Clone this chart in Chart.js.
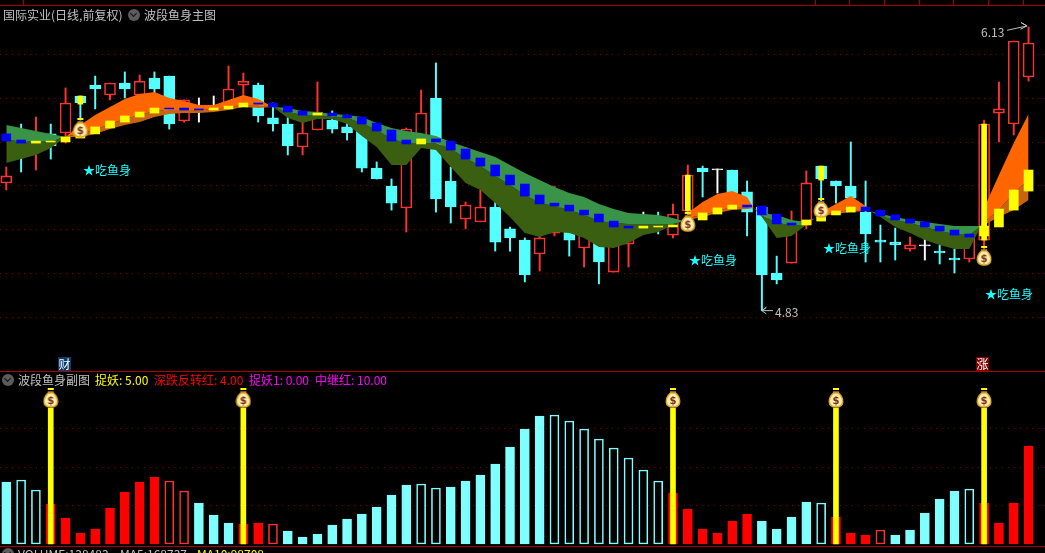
<!DOCTYPE html>
<html>
<head>
<meta charset="utf-8">
<title>波段鱼身</title>
<script src="https://cdn.jsdelivr.net/npm/chart.js@4/dist/chart.umd.min.js"></script>
<style>
html, body { margin: 0; padding: 0; background: #000; overflow: hidden; }
#wrap { position: relative; width: 1045px; height: 553px; overflow: hidden; }
#chart { position: absolute; left: 0; top: 0; }
.t { position: absolute; white-space: pre; font: 12px "Noto Sans CJK SC", "DejaVu Sans", sans-serif; line-height: 14px; color: #c0c0c0; }
.fish { color: #19ffff; font-size: 12px; }
.rule { position: absolute; left: 0; width: 1045px; height: 1px; background: #a80000; }
.sep { position: absolute; top: 0; width: 1px; height: 5px; background: #a80000; }
.ico { position: absolute; width: 12px; height: 12px; border-radius: 50%; background: #5c5c5c; }
.ico:after { content: ""; position: absolute; left: 3px; top: 2px; width: 4px; height: 4px; border: solid #111; border-width: 0 1.5px 1.5px 0; transform: rotate(45deg); }
.tag { position: absolute; width: 13px; height: 14px; color: #fff; font: 12px/14px "Noto Sans CJK SC"; text-align: center; }
</style>
</head>
<body>
<div id="wrap">
  <canvas id="chart" width="1045" height="553"></canvas>

  <div class="rule" style="top:5px"></div>
  <div class="sep" style="left:23px"></div>
  <div class="sep" style="left:815px"></div>
  <div class="sep" style="left:849px"></div>
  <div class="sep" style="left:884px"></div>
  <div class="sep" style="left:919px"></div>
  <div class="sep" style="left:953px"></div>
  <div class="sep" style="left:988px"></div>
  <div class="sep" style="left:1023px"></div>
  <div class="rule" style="top:371px"></div>
  <div class="rule" style="top:546px"></div>

  <div class="t" style="left:3px;top:8px">国际实业(日线,前复权)</div>
  <div class="ico" style="left:128px;top:9px"></div>
  <div class="t" style="left:144px;top:8px">波段鱼身主图</div>

  <div class="t fish" style="left:83px;top:163px">★吃鱼身</div>
  <div class="t fish" style="left:689px;top:253px">★吃鱼身</div>
  <div class="t fish" style="left:823px;top:241px">★吃鱼身</div>
  <div class="t fish" style="left:985px;top:287px">★吃鱼身</div>

  <div class="t" style="left:775px;top:305px">4.83</div>
  <div class="t" style="left:981px;top:25px">6.13</div>

  <div class="tag" style="left:58px;top:357px;background:#0a3a6a">财</div>
  <div class="tag" style="left:976px;top:357px;background:#800000">涨</div>

  <div class="ico" style="left:2px;top:374px"></div>
  <div class="t" style="left:18px;top:373px">波段鱼身副图</div>
  <div class="t" style="left:95px;top:373px;color:#ffff00">捉妖: 5.00</div>
  <div class="t" style="left:154px;top:373px;color:#ff0000">深跌反转红: 4.00</div>
  <div class="t" style="left:249px;top:373px;color:#ff00ff">捉妖1: 0.00</div>
  <div class="t" style="left:315px;top:373px;color:#ff00ff">中继红: 10.00</div>

  <div class="ico" style="left:2px;top:548px"></div>
  <div class="t" style="left:18px;top:547px">VOLUME:138483</div>
  <div class="t" style="left:120px;top:547px">MA5:168737</div>
  <div class="t" style="left:197px;top:547px;color:#ffff00">MA10:98708</div>
</div>

<script>
var openP = [5.413,5.609,5.563,5.637,5.641,5.810,5.860,5.815,5.869,5.815,5.892,5.901,5.696,5.751,5.751,5.760,5.860,5.860,5.710,5.682,5.577,5.655,5.700,5.669,5.664,5.481,5.399,5.299,5.618,5.801,5.422,5.248,5.235,5.303,5.203,5.152,5.089,5.184,5.267,5.116,5.221,5.006,5.134,5.221,5.235,5.175,5.285,5.481,5.477,5.472,5.372,5.303,5.002,5.047,5.221,5.490,5.422,5.399,5.280,5.152,5.143,5.111,5.130,5.102,5.070,5.066,5.152,5.732,5.682,5.897];
var closeP = [5.445,5.541,5.632,5.582,5.778,5.778,5.842,5.869,5.842,5.878,5.842,5.682,5.792,5.746,5.746,5.842,5.878,5.719,5.682,5.582,5.641,5.737,5.659,5.641,5.481,5.431,5.321,5.659,5.732,5.340,5.303,5.312,5.303,5.143,5.162,4.993,5.162,5.335,5.152,5.235,5.052,5.175,5.221,5.216,5.207,5.271,5.449,5.463,5.472,5.367,5.280,4.993,4.970,5.235,5.413,5.431,5.399,5.344,5.180,5.143,5.130,5.130,5.125,5.093,5.061,5.166,5.682,5.751,6.061,6.052];
var highP = [5.486,5.682,5.714,5.682,5.847,5.810,5.901,5.869,5.920,5.906,5.920,5.901,5.792,5.801,5.810,5.947,5.915,5.869,5.778,5.737,5.732,5.874,5.742,5.723,5.664,5.509,5.431,5.664,5.837,5.961,5.486,5.326,5.381,5.335,5.212,5.162,5.221,5.399,5.312,5.267,5.253,5.207,5.244,5.280,5.280,5.317,5.495,5.490,5.477,5.472,5.422,5.303,5.079,5.285,5.468,5.490,5.422,5.600,5.422,5.221,5.207,5.166,5.157,5.130,5.111,5.207,5.700,5.874,6.061,6.125];
var lowP = [5.381,5.463,5.472,5.522,5.595,5.700,5.751,5.792,5.801,5.815,5.792,5.659,5.691,5.691,5.746,5.760,5.792,5.691,5.650,5.541,5.541,5.655,5.641,5.609,5.463,5.431,5.289,5.189,5.618,5.280,5.230,5.203,5.235,5.102,5.102,4.961,5.011,5.171,5.079,5.029,4.952,5.006,5.029,5.189,5.180,5.162,5.267,5.349,5.367,5.367,5.171,4.830,4.952,5.047,5.203,5.326,5.321,5.289,5.052,5.052,5.061,5.102,5.061,5.043,5.002,5.052,5.107,5.600,5.632,5.878];

var markHigh = [5.637,5.609,5.604,5.604,5.623,5.627,5.669,5.696,5.719,5.737,5.755,5.755,5.755,5.751,5.755,5.764,5.778,5.778,5.778,5.764,5.742,5.732,5.732,5.723,5.714,5.687,5.655,5.609,5.614,5.614,5.604,5.568,5.527,5.495,5.449,5.408,5.358,5.321,5.312,5.289,5.271,5.239,5.216,5.216,5.216,5.221,5.235,5.276,5.299,5.312,5.312,5.308,5.271,5.230,5.244,5.258,5.285,5.303,5.303,5.289,5.267,5.248,5.235,5.216,5.198,5.180,5.216,5.294,5.381,5.472];
var markLow = [5.604,5.595,5.595,5.600,5.600,5.618,5.637,5.664,5.691,5.714,5.732,5.751,5.746,5.746,5.746,5.751,5.760,5.773,5.760,5.737,5.723,5.723,5.719,5.710,5.682,5.650,5.604,5.591,5.591,5.600,5.563,5.522,5.490,5.445,5.404,5.353,5.317,5.308,5.285,5.267,5.235,5.212,5.207,5.207,5.212,5.212,5.226,5.244,5.271,5.294,5.303,5.267,5.226,5.221,5.221,5.239,5.267,5.280,5.285,5.262,5.244,5.230,5.212,5.194,5.175,5.166,5.171,5.212,5.289,5.376];
var markKinds = ['bb','yyyyyyyyy','bbb','yyy','bbbb','y','bbbbbb','y','bbbbbbbbbbbbbb','yyyyyyy','bbbb','yyyy','bbbbbbbb','yyyy'].join('');

var bandX = [0,1,2,3,4,5,6,7,8,9,10,11,12,13,14,15,16,17,18,19,20,21,22,23,24,25,26,27,28,29,30,31,32,33,34,35,36,37,38,39,40,41,42,43,44,45,45.7,46,47,48,49,50,50.45,51,52,53,54,54.6,55,56,57,58,58.3,59,60,61,62,63,64,65,65.8,66,67,68,69];
var bandTop = [5.678,5.664,5.650,5.637,5.623,5.678,5.723,5.760,5.796,5.819,5.828,5.801,5.787,5.769,5.769,5.792,5.815,5.796,5.760,5.755,5.742,5.737,5.728,5.723,5.714,5.687,5.664,5.650,5.641,5.627,5.600,5.577,5.554,5.531,5.495,5.458,5.426,5.395,5.367,5.349,5.317,5.294,5.276,5.271,5.267,5.253,5.239,5.276,5.326,5.362,5.376,5.349,5.299,5.276,5.267,5.244,5.235,5.253,5.280,5.317,5.353,5.308,5.285,5.271,5.257,5.244,5.235,5.226,5.216,5.216,5.216,5.299,5.449,5.595,5.728];
var bandMid = [5.609,5.604,5.600,5.604,5.623,5.641,5.655,5.682,5.705,5.723,5.742,5.746,5.746,5.746,5.751,5.760,5.769,5.769,5.760,5.737,5.723,5.723,5.714,5.710,5.687,5.655,5.614,5.595,5.595,5.595,5.568,5.527,5.490,5.445,5.404,5.358,5.321,5.308,5.289,5.267,5.239,5.230,5.226,5.226,5.226,5.226,5.239,5.253,5.267,5.285,5.303,5.303,5.299,5.267,5.230,5.221,5.221,5.253,5.262,5.280,5.289,5.289,5.285,5.262,5.244,5.230,5.212,5.194,5.180,5.175,5.216,5.235,5.289,5.367,5.426];
var bandLow = [5.504,5.522,5.541,5.573,5.623,5.623,5.637,5.659,5.678,5.691,5.714,5.728,5.732,5.732,5.737,5.746,5.760,5.755,5.760,5.710,5.687,5.705,5.705,5.682,5.627,5.577,5.495,5.495,5.573,5.563,5.486,5.413,5.381,5.321,5.257,5.184,5.166,5.189,5.184,5.162,5.121,5.116,5.139,5.175,5.189,5.221,5.239,5.244,5.257,5.276,5.289,5.294,5.299,5.257,5.162,5.171,5.221,5.253,5.262,5.271,5.280,5.285,5.285,5.257,5.212,5.184,5.152,5.130,5.111,5.111,5.216,5.221,5.257,5.289,5.335];
var bandTurns = [4, 18, 45.7, 50.45, 54.6, 58.3, 65.8];

var volume = [80600,83200,70200,52000,33800,14300,19500,46800,67600,80600,87100,81900,68900,53300,37700,27300,26000,27300,26000,16900,9100,13000,24700,32500,39000,48100,63700,76700,78000,72800,74100,81900,89700,104000,126100,149500,166400,167700,159900,149500,136500,124800,111800,96200,81900,66300,45500,19500,14300,29900,39000,29900,19500,35100,54600,53300,35100,14300,11700,18200,11700,18200,40300,58500,68900,71500,53300,27300,53300,127400];
var volKinds = ['chhrrrrrrrr','oo','ccc','rr','o','ccccccccc','hh','ccccccc','hhhhhhhh','rrrrrr','cccc','h','rrr','o','ccccc','h','rrrr'].join('');

var signalIdx = [5, 46, 55, 66];
var signalHigh = [5.810, 5.449, 5.490, 5.682];
var signalLow = [5.773, 5.285, 5.426, 5.152];
var bagIdx = [5, 46, 55, 66];
var bagPrice = [5.664, 5.235, 5.299, 5.080];

var poleIdx = [3, 16, 45, 56, 66];
var poleTop = 176800;
var poleBag = 189800;

var priceTicks = [4.8, 5.0, 5.2, 5.4, 5.6, 5.8, 6.0];
var volumeTicks = [50000, 100000, 150000];

var lowArrow = [[51.75,4.83],[51,4.83],[51.3,4.845],[51,4.83],[51.3,4.815]];
var highArrow = [[67.55,6.11],[68.9,6.13],[68.5,6.145],[68.9,6.13],[68.45,6.115]];

var CYAN = '#54ffff', RED = '#ff3232', WHITE = '#ffffff';

function isDoji(i) { return Math.abs(closeP[i] - openP[i]) < 0.006; }
function candleColor(i) {
    if (isDoji(i)) return WHITE;
    return closeP[i] > openP[i] ? RED : CYAN;
}

var n = openP.length;
var wickData = [], bodyData = [], markData = [], volData = [];
var wickColors = [], bodyColors = [], bodyFill = [], markColors = [], volBorder = [], volFill = [];
for (var i = 0; i < n; i++) {
    var c = candleColor(i);
    wickData.push({x: i, y: [lowP[i], highP[i]]});
    wickColors.push(c);
    bodyData.push({x: i, y: [openP[i], closeP[i]]});
    bodyColors.push(c);
    bodyFill.push(c === RED ? '#000000' : c);
    markData.push({x: i, y: [markLow[i], markHigh[i]]});
    markColors.push(markKinds[i] === 'y' ? '#ffff00' : '#0000ff');
    var k = volKinds[i];
    var vc = (k === 'c' || k === 'h') ? '#80ffff' : (k === 'r' ? '#ff0000' : RED);
    volData.push({x: i, y: volume[i]});
    volBorder.push(vc);
    volFill.push(k === 'h' || k === 'o' ? '#000000' : vc);
}

function bandPoints(values, orange) {
    return bandX.map(function(x, j) {
        var turn = bandTurns.indexOf(x) >= 0;
        var passed = bandTurns.filter(function(t) { return t <= x; }).length;
        var isOrange = passed % 2 === 1;
        return {x: x, y: (turn || isOrange === orange) ? values[j] : null};
    });
}

function bandSet(orange, upper, lower, order) {
    function line(values, fillColor) {
        return {
            type: 'line', data: bandPoints(values, orange), order: order,
            borderWidth: 0, pointRadius: 0, tension: 0, spanGaps: false,
            fill: fillColor ? '+1' : false, backgroundColor: fillColor || 'transparent'
        };
    }
    return [line(bandTop, upper), line(bandMid, lower), line(bandLow, null)];
}

function makeBag() {
    var b = document.createElement('canvas');
    b.width = 16; b.height = 20;
    var g = b.getContext('2d');
    g.fillStyle = '#ffff00';
    g.fillRect(5, 0, 6, 2);
    g.fillStyle = '#8a5a18';
    g.fillRect(5, 3, 6, 3);
    g.fillStyle = '#ffefa8';
    g.strokeStyle = '#e0a830';
    g.lineWidth = 1.5;
    g.beginPath();
    g.moveTo(5.5, 5);
    g.bezierCurveTo(0, 10, -1, 19, 8, 19);
    g.bezierCurveTo(17, 19, 16, 10, 10.5, 5);
    g.closePath();
    g.fill();
    g.stroke();
    g.fillStyle = '#7a3020';
    g.font = 'bold 10px "DejaVu Sans"';
    g.textAlign = 'center';
    g.fillText('$', 8, 16);
    return b;
}
var bag = makeBag();

function floatBars(data, colors, width, order) {
    return {data: data, backgroundColor: colors, barThickness: width, grouped: false, order: order, borderWidth: 0};
}

var datasets = [];
datasets.push(floatBars(wickData, wickColors, 1.3, 20));
datasets.push({
    data: bodyData, backgroundColor: bodyFill, borderColor: bodyColors, borderWidth: 1.6, borderSkipped: false,
    barThickness: 11, grouped: false, order: 19
});
datasets = datasets.concat(bandSet(false, '#3a9448', '#3a5f10', 15));
datasets = datasets.concat(bandSet(true, '#ff6600', '#c8640f', 15));
datasets.push(floatBars(markData, markColors, 9, 10));
datasets.push(floatBars(signalIdx.map(function(x, j) { return {x: x, y: [signalLow[j], signalHigh[j]]}; }), '#ffff00', 5, 9));
datasets.push({
    data: volData, yAxisID: 'yv', backgroundColor: volFill, borderColor: volBorder, borderWidth: 1.6, borderSkipped: false,
    barThickness: 9, grouped: false, order: 8
});
datasets.push({
    data: poleIdx.map(function(x) { return {x: x, y: poleTop}; }), yAxisID: 'yv', backgroundColor: '#ffff00',
    barThickness: 5, grouped: false, order: 7
});
[lowArrow, highArrow].forEach(function(a) {
    datasets.push({
        type: 'line', data: a.map(function(p) { return {x: p[0], y: p[1]}; }), borderColor: '#c0c0c0', borderWidth: 1,
        pointRadius: 0, tension: 0, order: 6
    });
});
datasets.push({
    type: 'scatter', data: bagIdx.map(function(x, j) { return {x: x, y: bagPrice[j]}; }),
    pointStyle: bag, order: 5
});
datasets.push({
    type: 'scatter', yAxisID: 'yv', data: poleIdx.map(function(x) { return {x: x, y: poleBag}; }),
    pointStyle: bag, order: 5
});

new Chart(document.getElementById('chart').getContext('2d'), {
    type: 'bar',
    data: {datasets: datasets},
    options: {
        responsive: false,
        devicePixelRatio: 1,
        animation: false,
        events: [],
        layout: {padding: 0, autoPadding: false},
        plugins: {legend: {display: false}, tooltip: {enabled: false}},
        scales: {
            x: {type: 'linear', display: false, min: -0.425, max: 70.11, offset: false},
            y: {
                position: 'left', min: 3.7233, max: 6.2484,
                afterBuildTicks: function(s) { s.ticks = priceTicks.map(function(v) { return {value: v}; }); },
                afterFit: function(s) { s.width = 0; },
                ticks: {display: false},
                grid: {color: '#8a0000', drawTicks: false},
                border: {display: false, dash: [1, 5]}
            },
            yv: {
                position: 'right', min: -11700, max: 707200,
                afterBuildTicks: function(s) { s.ticks = volumeTicks.map(function(v) { return {value: v}; }); },
                afterFit: function(s) { s.width = 0; },
                ticks: {display: false},
                grid: {color: '#8a0000', drawTicks: false},
                border: {display: false, dash: [1, 5]}
            }
        }
    }
});
</script>
</body>
</html>
